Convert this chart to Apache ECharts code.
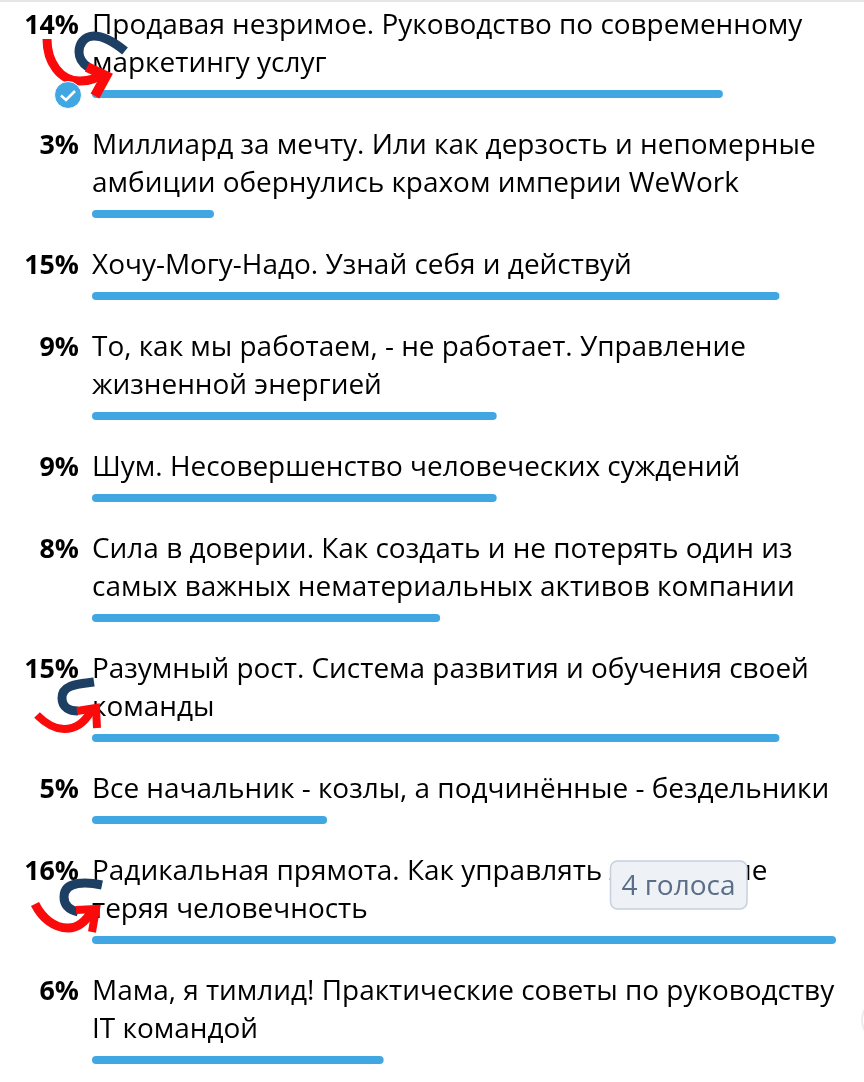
<!DOCTYPE html>
<html>
<head>
<meta charset="utf-8">
<style>html,body{margin:0;padding:0;background:#fff}#c{width:864px;height:1082px}</style>
<script src="https://cdn.jsdelivr.net/npm/echarts@6/dist/echarts.min.js"></script>
</head>
<body>
<div id="c"></div>
<script>
const titles = [
  ['Продавая незримое. Руководство по современному', 'маркетингу услуг'],
  ['Миллиард за мечту. Или как дерзость и непомерные', 'амбиции обернулись крахом империи WeWork'],
  ['Хочу-Могу-Надо. Узнай себя и действуй'],
  ['То, как мы работаем, - не работает. Управление', 'жизненной энергией'],
  ['Шум. Несовершенство человеческих суждений'],
  ['Сила в доверии. Как создать и не потерять один из', 'самых важных нематериальных активов компании'],
  ['Разумный рост. Система развития и обучения своей', 'команды'],
  ['Все начальник - козлы, а подчинённые - бездельники'],
  ['Радикальная прямота. Как управлять людьми, не', 'теряя человечность'],
  ['Мама, я тимлид! Практические советы по руководству', 'IT командой']
];
const votes = [11, 2, 12, 7, 7, 6, 12, 4, 13, 5];
const percents = [14, 3, 15, 9, 9, 8, 15, 5, 16, 6];
const hoverLabel = '4 голоса';

const FONT = '"Open Sans","Noto Sans",sans-serif';
const BASE_ROW = 82, LINE = 38, FIRST_BAR = 94;
const barY = [];
titles.forEach((t, i) => {
  barY.push(i === 0 ? FIRST_BAR : barY[i - 1] + BASE_ROW + LINE * (t.length - 1));
});
const rows = votes.map((v, i) => [v, barY[i], i]);

const X_MIN = -0.157, X_MAX = 13;
const red = '#fa0a0a', navy = '#1d3f63';
const stroke = (pathData, color, w) => ({
  type: 'path',
  shape: { pathData },
  style: { fill: null, stroke: color, lineWidth: w, lineCap: 'butt', lineJoin: 'miter' }
});

const chart = echarts.init(document.getElementById('c'), null, { renderer: 'canvas' });
chart.setOption({
  animation: false,
  backgroundColor: '#ffffff',
  grid: { left: 92, right: 28, top: 0, bottom: 0 },
  xAxis: { type: 'value', min: X_MIN, max: X_MAX, show: false },
  yAxis: { type: 'value', min: 0, max: 1082, inverse: true, show: false },
  series: [{
    type: 'custom',
    coordinateSystem: 'cartesian2d',
    data: rows,
    encode: { x: 0, y: 1 },
    clip: false,
    silent: true,
    renderItem(params, api) {
      const v = api.value(0), y = api.value(1), i = api.value(2);
      const start = api.coord([X_MIN, y]);
      const end = api.coord([v, y]);
      const lines = titles[i];
      const top = start[1] - 30 - LINE * (lines.length - 1);
      const children = [{
        type: 'rect',
        shape: { x: start[0], y: start[1] - 4, width: end[0] - start[0], height: 8, r: 4 },
        style: { fill: '#40a7e3' }
      }, {
        type: 'text',
        style: {
          x: 79, y: top, text: percents[i] + '%', align: 'right', verticalAlign: 'middle',
          font: '700 26.8px ' + FONT, fill: '#000'
        }
      }];
      lines.forEach((s, k) => children.push({
        type: 'text',
        style: {
          x: 92, y: top + k * LINE, text: s, align: 'left', verticalAlign: 'middle',
          font: '400 27.95px ' + FONT, fill: '#000'
        }
      }));
      return { type: 'group', children };
    }
  }, {
    type: 'custom',
    coordinateSystem: 'none',
    data: [[0]],
    z: 50,
    silent: true,
    renderItem() {
      return { type: 'group', children: [
        stroke('M125 51 C114 42 104 36 94 36 C84 36 79 44 79 52 C79 58 82 63 88 67', navy, 9),
        stroke('M47 39 C47 62 60 81 80 81 C90 81 98 78 104 72', red, 9),
        stroke('M87 67 L106 76 L95 96', red, 10),
        stroke('M94 682 C80 684 62 684 62 698 C62 708 70 711 78 711', navy, 9),
        stroke('M37 715 C46 724 56 729 64 729 C76 729 85 722 91 711', red, 8),
        stroke('M77 711 L96 708 L97 728', red, 8),
        stroke('M102 885 C88 882 64 880 64 897 C64 906 70 910 78 912', navy, 9),
        stroke('M35 904 C42 918 54 928 68 928 C78 928 86 921 92 911', red, 9),
        stroke('M76 910 L96 909 L92 932', red, 8),
        { type: 'circle', shape: { cx: 68, cy: 95, r: 13.5 }, style: { fill: '#40a7e3', stroke: '#fff', lineWidth: 1 } },
        stroke('M61 95.5 L66 100 L75 91', '#fff', 2.6)
      ] };
    }
  }],
  graphic: [
    { type: 'rect', z: 90, silent: true, shape: { x: 0, y: 0, width: 864, height: 2 }, style: { fill: '#e6e6e6' } },
    { type: 'circle', z: 90, silent: true, shape: { cx: 884, cy: 1020, r: 22 }, style: { fill: '#fff', stroke: '#ececec', lineWidth: 2 } },
    { type: 'rect', z: 110, silent: true,
      shape: { x: 610.5, y: 861, width: 136.5, height: 48, r: 7 },
      style: { fill: '#eef1f5', stroke: '#c6d0de', lineWidth: 1.5 } },
    { type: 'text', z: 111, silent: true,
      style: { x: 678.5, y: 887, text: hoverLabel, align: 'center', verticalAlign: 'middle',
        font: '400 28px ' + FONT, fill: '#5b6e88' } }
  ]
});
</script>
</body>
</html>
